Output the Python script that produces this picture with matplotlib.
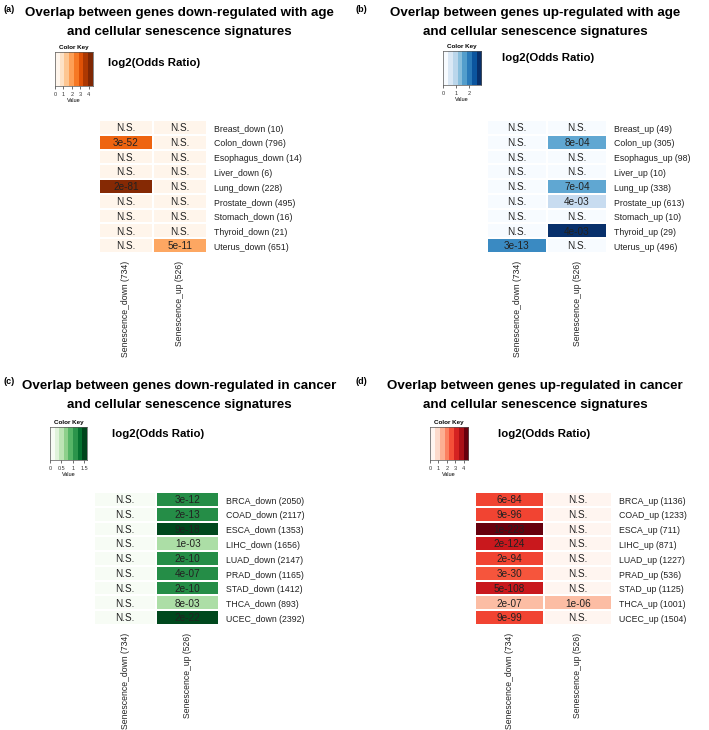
import numpy as np
import matplotlib
matplotlib.use("Agg")
import matplotlib.pyplot as plt

plt.rcParams["font.family"] = ["Liberation Sans", "DejaVu Sans"]

W, H = 709, 730

col_labels = ["Senescence_down (734)", "Senescence_up (526)"]

# (a) aging down-regulated genes
rows_a = ["Breast_down (10)", "Colon_down (796)", "Esophagus_down (14)", "Liver_down (6)",
          "Lung_down (228)", "Prostate_down (495)", "Stomach_down (16)", "Thyroid_down (21)",
          "Uterus_down (651)"]
lor_a_down = [0, 2.9, 0, 0, 4.4, 0, 0, 0, 0]
lor_a_up = [0, 0, 0, 0, 0, 0, 0, 0, 1.8]
p_a_down = ["N.S.", "3e-52", "N.S.", "N.S.", "2e-81", "N.S.", "N.S.", "N.S.", "N.S."]
p_a_up = ["N.S.", "N.S.", "N.S.", "N.S.", "N.S.", "N.S.", "N.S.", "N.S.", "5e-11"]

# (b) aging up-regulated genes
rows_b = ["Breast_up (49)", "Colon_up (305)", "Esophagus_up (98)", "Liver_up (10)",
          "Lung_up (338)", "Prostate_up (613)", "Stomach_up (10)", "Thyroid_up (29)",
          "Uterus_up (496)"]
lor_b_down = [0, 0, 0, 0, 0, 0, 0, 0, 1.9]
lor_b_up = [0, 1.55, 0, 0, 1.55, 0.7, 0, 2.9, 0]
p_b_down = ["N.S.", "N.S.", "N.S.", "N.S.", "N.S.", "N.S.", "N.S.", "N.S.", "3e-13"]
p_b_up = ["N.S.", "8e-04", "N.S.", "N.S.", "7e-04", "4e-03", "N.S.", "4e-03", "N.S."]

# (c) cancer down-regulated genes
rows_c = ["BRCA_down (2050)", "COAD_down (2117)", "ESCA_down (1353)", "LIHC_down (1656)",
          "LUAD_down (2147)", "PRAD_down (1165)", "STAD_down (1412)", "THCA_down (893)",
          "UCEC_down (2392)"]
lor_c_down = [0, 0, 0, 0, 0, 0, 0, 0, 0]
lor_c_up = [1.2, 1.2, 1.6, 0.55, 1.2, 1.2, 1.2, 0.55, 1.6]
p_c_down = ["N.S."] * 9
p_c_up = ["3e-12", "2e-13", "9e-18", "1e-03", "2e-10", "4e-07", "2e-10", "8e-03", "2e-22"]

# (d) cancer up-regulated genes
rows_d = ["BRCA_up (1136)", "COAD_up (1233)", "ESCA_up (711)", "LIHC_up (871)",
          "LUAD_up (1227)", "PRAD_up (536)", "STAD_up (1125)", "THCA_up (1001)",
          "UCEC_up (1504)"]
lor_d_down = [2.7, 2.7, 4.5, 3.4, 2.7, 2.5, 3.4, 1.1, 2.7]
lor_d_up = [0, 0, 0, 0, 0, 0, 0, 1.1, 0]
p_d_down = ["6e-84", "9e-96", "1e-223", "2e-124", "2e-94", "3e-30", "5e-108", "2e-07", "9e-99"]
p_d_up = ["N.S.", "N.S.", "N.S.", "N.S.", "N.S.", "N.S.", "N.S.", "1e-06", "N.S."]


fig = plt.figure(figsize=(W / 100, H / 100), dpi=100)


def px_axes(x0, y0, x1, y1):
    return fig.add_axes([x0 / W, 1 - y1 / H, (x1 - x0) / W, (y1 - y0) / H])


def heatmap(box, rows, v_down, v_up, t_down, t_up, cmap, vmax):
    ax = px_axes(*box)
    data = np.column_stack([v_down, v_up])
    ax.pcolormesh(data, cmap=cmap, vmin=0, vmax=vmax,
                  edgecolors="white", linewidth=0.3)
    ax.set_xlim(0, 2)
    ax.set_ylim(len(rows), 0)
    for i in range(len(rows)):
        ax.text(0.5, i + 0.55, t_down[i], ha="center", va="center", fontsize=7.2, color="#222222")
        ax.text(1.5, i + 0.55, t_up[i], ha="center", va="center", fontsize=7.2, color="#222222")
    ax.set_xticks([0.5, 1.5])
    ax.set_xticklabels(col_labels, rotation=90, fontsize=6.2, color="#222222")
    ax.set_yticks(np.arange(len(rows)) + 0.55)
    ax.set_yticklabels(rows, fontsize=6.3, color="#222222")
    ax.yaxis.tick_right()
    ax.tick_params(length=0)
    ax.tick_params(axis="x", pad=5.8)
    ax.tick_params(axis="y", pad=5)
    for s in ax.spines.values():
        s.set_visible(False)
    return ax


def color_key(box, cmap, vmax, ticks, ticklabels):
    ax = px_axes(*box)
    grad = np.linspace(0, vmax, 200)[None, :]
    ax.imshow(grad, cmap=plt.get_cmap(cmap).resampled(8), vmin=0, vmax=vmax,
              extent=[0, vmax, 0, 1], aspect="auto", interpolation="nearest")
    ax.set_xlim(0, vmax)
    ax.set_ylim(0, 1)
    ax.set_yticks([])
    ax.set_xticks(ticks)
    ax.set_xticklabels(ticklabels, fontsize=4)
    ax.tick_params(axis="x", length=2.5, width=0.5, pad=1.5, colors="#333333")
    ax.set_xlabel("Value", fontsize=4, labelpad=1)
    ax.set_title("Color Key", fontsize=4.5, fontweight="bold", pad=2)
    for s in ax.spines.values():
        s.set_linewidth(0.5)
        s.set_color("#555555")


def panel_title(tag, x_tag, y_tag, line1, line2, xc, y1, y2):
    fig.text(x_tag / W, 1 - y_tag / H, tag, fontsize=6.5, fontweight="bold", va="center")
    fig.text(xc / W, 1 - y1 / H, line1, fontsize=9.6, fontweight="bold", ha="center", va="center")
    fig.text(xc / W, 1 - y2 / H, line2, fontsize=9.6, fontweight="bold", ha="center", va="center")


# titles
panel_title("(a)", 3, 9, "Overlap between genes down-regulated with age",
            "and cellular senescence signatures", 179, 13, 32)
panel_title("(b)", 356, 9, "Overlap between genes up-regulated with age",
            "and cellular senescence signatures", 535, 13, 32)
panel_title("(c)", 3, 382, "Overlap between genes down-regulated in cancer",
            "and cellular senescence signatures", 179, 386, 405)
panel_title("(d)", 356, 382, "Overlap between genes up-regulated in cancer",
            "and cellular senescence signatures", 535, 386, 405)

# color keys
color_key((55, 52, 93, 86), "Oranges", 4.5, [0, 1, 2, 3, 4], ["0", "1", "2", "3", "4"])
color_key((443, 51, 481, 85), "Blues", 2.9, [0, 1, 2], ["0", "1", "2"])
color_key((50, 427, 87, 460), "Greens", 1.62, [0, 0.5, 1, 1.5], ["0", "0.5", "1", "1.5"])
color_key((430, 427, 468, 460), "Reds", 4.5, [0, 1, 2, 3, 4], ["0", "1", "2", "3", "4"])

for x, y in [(108, 63), (502, 58), (112, 434), (498, 434)]:
    fig.text(x / W, 1 - y / H, "log2(Odds Ratio)", fontsize=8.2, fontweight="bold", va="center")

# heatmaps
heatmap((99, 120, 207, 253), rows_a, lor_a_down, lor_a_up, p_a_down, p_a_up, "Oranges", 4.5)
heatmap((487, 120, 607, 253), rows_b, lor_b_down, lor_b_up, p_b_down, p_b_up, "Blues", 2.9)
heatmap((94, 492, 219, 625), rows_c, lor_c_down, lor_c_up, p_c_down, p_c_up, "Greens", 1.62)
heatmap((475, 492, 612, 625), rows_d, lor_d_down, lor_d_up, p_d_down, p_d_up, "Reds", 4.5)

fig.savefig("out.png", dpi=100)
